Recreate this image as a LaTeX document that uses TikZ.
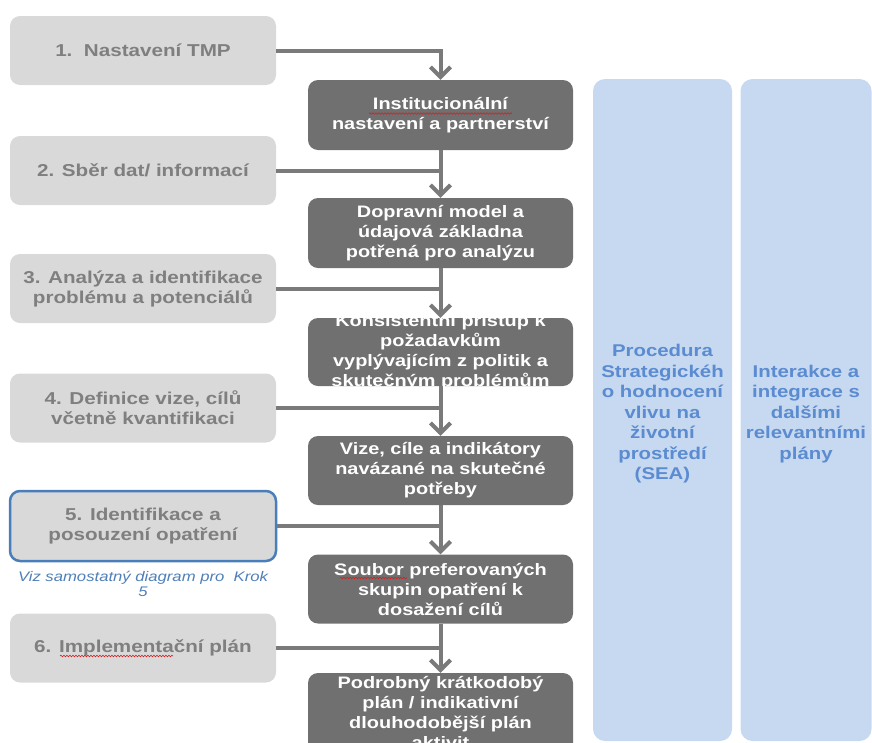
\documentclass[tikz,border=0pt]{standalone}
\usepackage{fontspec}
\setmainfont{Liberation Sans}[FakeStretch=1.2]
\usetikzlibrary{arrows.meta,decorations.pathmorphing}

\definecolor{stepfill}{HTML}{D9D9D9}
\definecolor{steptext}{HTML}{7F7F7F}
\definecolor{outfill}{HTML}{707070}
\definecolor{linkgray}{HTML}{7A7A7A}
\definecolor{panelfill}{HTML}{C6D9F0}
\definecolor{paneltext}{HTML}{5B8BD0}
\definecolor{hiliteblue}{HTML}{4A7EBB}
\definecolor{notetext}{HTML}{4F7FB8}
\definecolor{squigred}{HTML}{D02020}

\tikzset{
  stepbox/.style={fill=stepfill, rounded corners=10pt, minimum width=266pt,
    minimum height=69pt, inner sep=0pt, align=center, text=steptext,
    font=\fontsize{17.2}{20}\selectfont\bfseries},
  focusbox/.style={stepbox, draw=hiliteblue, line width=2.5pt},
  outbox/.style={fill=outfill, rounded corners=10pt, minimum width=265pt,
    inner sep=0pt},
  outtext/.style={align=center, text=white, inner sep=0pt,
    font=\fontsize{16.6}{20}\selectfont\bfseries},
  panel/.style={fill=panelfill, rounded corners=12pt, inner sep=0pt,
    align=center, text=paneltext, font=\fontsize{17}{20.5}\selectfont\bfseries},
  link/.style={draw=linkgray, line width=4pt},
  flow/.style={link, -{Straight Barb[length=10pt, width=20pt]}},
  note/.style={align=center, text=notetext, inner sep=0pt,
    font=\fontsize{13.9}{15}\selectfont\itshape},
  spell/.style={draw=squigred, line width=0.6pt,
    decorate, decoration={snake, amplitude=0.8pt, segment length=3pt}},
}

% dark output box with its text clipped to the box
\newcommand\outstep[5]{% name, centre y, height, text, text shift
  \node[outbox, minimum height=#3pt] (#1) at (440.5,#2) {};
  \begin{scope}
    \clip[rounded corners=10pt] (#1.south west) rectangle (#1.north east);
    \node[outtext] at ([yshift=#5pt]#1.center) {#4};
  \end{scope}}

\begin{document}
\begin{tikzpicture}[x=1pt, y=-1pt]
  \useasboundingbox (0,0) rectangle (872,742);

  % side panels
  \node[panel, minimum width=139pt, minimum height=662pt] (sea) at (662.5,410) {};
  \node[panel, minimum width=131pt, minimum height=662pt] (plans) at (806,410) {};
  \node[panel, fill=none] (seatext) at (662.5,414)
    {Procedura\\Strategickéh\\o hodnocení\\vlivu na\\životní\\prostředí\\(SEA)};
  \node[panel, fill=none] (planstext) at (806,414)
    {Interakce a\\integrace s\\dalšími\\relevantními\\plány};

  % process steps
  \node[stepbox] (s1) at (143,50.5) {1.\ \ Nastavení TMP};
  \node[stepbox] (s2) at (143,170.5) {2. Sběr dat/ informací};
  \node[stepbox] (s3) at (143,288.5) {3. Analýza a identifikace\\problému a potenciálů};
  \node[stepbox] (s4) at (143,408) {4. Definice vize, cílů\\včetně kvantifikaci};
  \node[focusbox, minimum height=70pt] (s5) at (143,526) {5. Identifikace a\\posouzení opatření};
  \node[note] (n5) at (143,584) {Viz samostatný diagram pro\ \ Krok\\5};
  \node[stepbox] (s6) at (143,648) {6. Implementační plán};

  % outputs
  \outstep{o1}{115}{70}{Institucionální\\nastavení a partnerství}{0}
  \outstep{o2}{233}{70}{Dopravní model a\\údajová základna\\potřená pro analýzu}{0}
  \outstep{o3}{352}{68}{Konsistentní přístup k\\požadavkům\\vyplývajícím z politik a\\skutečným problémům}{0}
  \outstep{o4}{470.5}{69}{Vize, cíle a indikátory\\navázané na skutečné\\potřeby}{0}
  \outstep{o5}{589}{69}{Soubor preferovaných\\skupin opatření k\\dosažení cílů}{0}
  \outstep{o6}{718}{90}{Podrobný krátkodobý\\plán / indikativní\\dlouhodobější plán\\aktivit}{6}

  % spelling marks under single words
  \coordinate (w1a) at (369,113.5);  \coordinate (w1b) at (512,113.5);
  \coordinate (w2a) at (340,578);    \coordinate (w2b) at (407,578);
  \coordinate (w3a) at (60,656);     \coordinate (w3b) at (173,656);
  \draw[spell] (w1a) -- (w1b);
  \draw[spell] (w2a) -- (w2b);
  \draw[spell] (w3a) -- (w3b);

  % connectors
  \draw[flow] (s1.east) -| (o1.north);
  \draw[flow] (o1.south) -- (o2.north);
  \draw[flow] (o2.south) -- (o3.north);
  \draw[flow] (o3.south) -- (o4.north);
  \draw[flow] (o4.south) -- (o5.north);
  \draw[flow] (o5.south) -- (o6.north);
  \draw[link] (s2.east) -- (s2.east -| o2.north);
  \draw[link] (s3.east) -- (s3.east -| o3.north);
  \draw[link] (s4.east) -- (s4.east -| o4.north);
  \draw[link] (s5.east) -- (s5.east -| o5.north);
  \draw[link] (s6.east) -- (s6.east -| o6.north);
\end{tikzpicture}
\end{document}
